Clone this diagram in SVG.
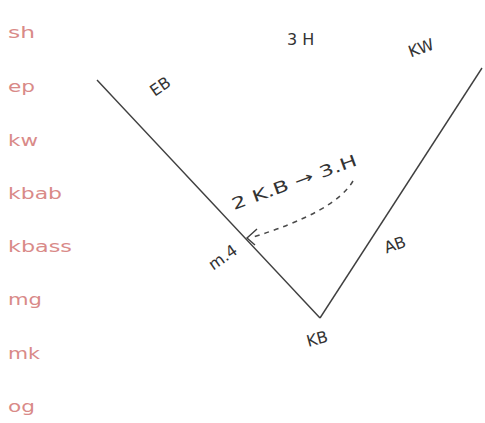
<svg xmlns="http://www.w3.org/2000/svg" width="485" height="423" viewBox="0 0 485 423">
<style>
.lbl{font-family:"DejaVu Sans","Liberation Sans",sans-serif;font-size:15px;fill:#d98a88}
.hw{font-family:"DejaVu Sans","Liberation Sans",sans-serif;font-size:16px;fill:#333333}
.ln{stroke:#3f3f3f;stroke-width:1.4;fill:none}
.dash{stroke:#4a4a4a;stroke-width:1.5;fill:none;stroke-dasharray:5 5}
</style>
<rect width="485" height="423" fill="#ffffff"/>
<g id="legend">
<text class="lbl" x="8" y="38" textLength="27" lengthAdjust="spacingAndGlyphs">sh</text>
<text class="lbl" x="8" y="92" textLength="27" lengthAdjust="spacingAndGlyphs">ep</text>
<text class="lbl" x="8" y="146" textLength="30" lengthAdjust="spacingAndGlyphs">kw</text>
<text class="lbl" x="8" y="199" textLength="54" lengthAdjust="spacingAndGlyphs">kbab</text>
<text class="lbl" x="8" y="252" textLength="64" lengthAdjust="spacingAndGlyphs">kbass</text>
<text class="lbl" x="8" y="305" textLength="34" lengthAdjust="spacingAndGlyphs">mg</text>
<text class="lbl" x="8" y="359" textLength="32" lengthAdjust="spacingAndGlyphs">mk</text>
<text class="lbl" x="8" y="412" textLength="27" lengthAdjust="spacingAndGlyphs">og</text>
</g>
<g id="connectors">
<path class="ln" d="M97,80 L320,318"/>
<path class="ln" d="M320,318 L482,68"/>
<path class="dash" d="M353,181 Q335,212 250,238"/>
<path class="ln" d="M257,229 L247,238 L255,245"/>
</g>
<g id="EB"><text class="hw" x="143" y="90" font-size="18" transform="rotate(-35 160 75)">EB</text></g>
<g id="SH"><text class="hw" x="287" y="45">3 H</text></g>
<g id="KW"><text class="hw" x="406" y="50" font-size="17" transform="rotate(-20 430 40)">KW</text></g>
<g id="KBSH"><text class="hw" x="234" y="210" font-size="18" textLength="132" lengthAdjust="spacingAndGlyphs" transform="rotate(-20 234 210)">2 K.B → 3.H</text></g>
<g id="M4"><text class="hw" x="203" y="262" transform="rotate(-35 222 250)">m.4</text></g>
<g id="AB"><text class="hw" x="383" y="250" font-size="17" transform="rotate(-20 395 242)">AB</text></g>
<g id="KB"><text class="hw" x="305" y="343" font-size="17" transform="rotate(-15 322 333)">KB</text></g>
</svg>
